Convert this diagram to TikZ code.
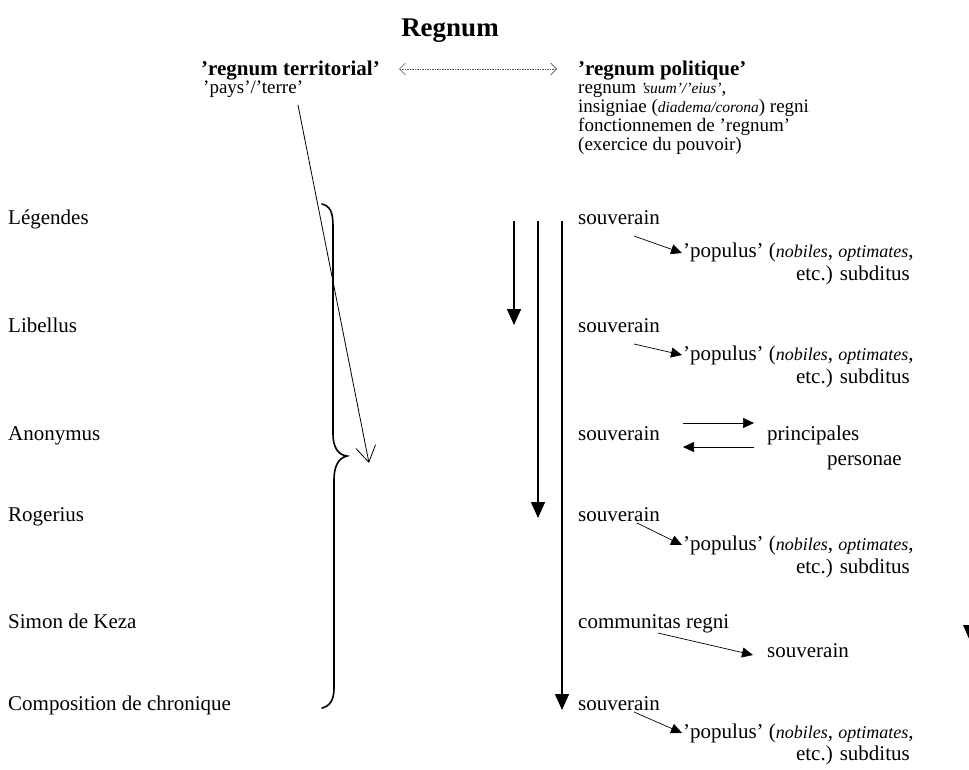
\documentclass[tikz,border=0pt]{standalone}
\usepackage{fontspec}
\setmainfont{Liberation Serif}
\usetikzlibrary{arrows.meta}
\newcommand\myit[1]{{\fontsize{18}{18}\selectfont\itshape #1}}
\newcommand\mysit[1]{{\fontsize{15.5}{15.5}\selectfont\itshape #1}}
\tikzset{
  txt/.style={inner sep=0pt, anchor=base west, font=\fontsize{21}{21}\selectfont},
  stxt/.style={inner sep=0pt, anchor=base west, font=\fontsize{19}{19}\selectfont},
  txtr/.style={txt, anchor=base east},
  hd/.style={txt, font=\fontsize{21}{21}\selectfont\bfseries},
  ttl/.style={inner sep=0pt, anchor=base, font=\fontsize{27}{27}\selectfont\bfseries},
  vert/.style={line width=1.5pt, -{Triangle[length=16pt,width=14pt]}},
  smallarr/.style={line width=0.7pt, -{Triangle[length=11pt,width=10pt]}},
  brc/.style={line width=1.6pt, line cap=round},
  diag/.style={line width=0.8pt, -{Straight Barb[length=16pt,width=20pt,line width=0.8pt]}},
  dots/.style={line width=0.6pt, draw=black!65, dash pattern=on 1.5pt off 1pt,
    {Straight Barb[length=6pt,width=12pt,line width=0.6pt]}-{Straight Barb[length=6pt,width=12pt,line width=0.6pt]}},
}
\begin{document}
\begin{tikzpicture}[x=1pt,y=-1pt]
\useasboundingbox (0,0) rectangle (969,769);
\fill[white] (0,0) rectangle (969,769);

% title and headings
\node[ttl] (title) at (450,36) {Regnum};
\node[hd] (terr) at (201,75) {’regnum territorial’};
\node[stxt] (pays) at (203,93) {’pays’/’terre’};
\node[hd] (pol) at (578,75) {’regnum politique’};
\node[stxt] (r2) at (578,93) {regnum \mysit{’suum’/’eius’},};
\node[stxt] (r3) at (578,112) {insigniae (\mysit{diadema/corona}) regni};
\node[stxt] (r4) at (578,131) {fonctionnemen de ’regnum’};
\node[stxt] (r5) at (578,150) {(exercice du pouvoir)};

\coordinate (dl) at (399,69);
\coordinate (dr) at (557,69);
\draw[dots] (dl) -- (dr);

% left labels
\node[txt] (leg) at (8,224) {Légendes};
\node[txt] (lib) at (8,332) {Libellus};
\node[txt] (ano) at (8,440) {Anonymus};
\node[txt] (rog) at (8,521) {Rogerius};
\node[txt] (sim) at (8,628) {Simon de Keza};
\node[txt] (com) at (8,710) {Composition de chronique};

% brace
\draw[brc] (322,204) .. controls (330,206) and (333,212) .. (333,226)
  -- (333,434) .. controls (333,447) and (338,455) .. (347,456)
  .. controls (338,458) and (334,467) .. (334,480)
  -- (334,688) .. controls (334,700) and (330,706) .. (322,708);

% diagonal arrow
\coordinate (dgs) at (298,105);
\coordinate (dge) at (369,463);
\draw[diag] (dgs) -- (dge);

% vertical arrows
\coordinate (v1s) at (514,221); \coordinate (v1e) at (514,325);
\coordinate (v2s) at (538,221); \coordinate (v2e) at (538,518);
\coordinate (v3s) at (562,221); \coordinate (v3e) at (562,710);
\draw[vert] (v1s) -- (v1e);
\draw[vert] (v2s) -- (v2e);
\draw[vert] (v3s) -- (v3e);

% block 1
\node[txt] (s1) at (578,224) {souverain};
\node[txt] (p1) at (683,257) {’populus’ (\myit{nobiles}, \myit{optimates},};
\node[txtr] (e1) at (910,280) {etc.) subditus};
\coordinate (a1s) at (634,236); \coordinate (a1e) at (682,253);
\draw[smallarr] (a1s) -- (a1e);

% block 2
\node[txt] (s2) at (578,332) {souverain};
\node[txt] (p2) at (683,360) {’populus’ (\myit{nobiles}, \myit{optimates},};
\node[txtr] (e2) at (910,383) {etc.) subditus};
\coordinate (a2s) at (634,344); \coordinate (a2e) at (682,355);
\draw[smallarr] (a2s) -- (a2e);

% block 3
\node[txt] (s3) at (578,440) {souverain};
\node[txt] (pr3) at (767,440) {principales};
\node[txtr] (pe3) at (902,465) {personae};
\coordinate (b3a) at (683,423); \coordinate (b3b) at (754,423);
\coordinate (b3c) at (754,447); \coordinate (b3d) at (683,447);
\draw[smallarr] (b3a) -- (b3b);
\draw[smallarr] (b3c) -- (b3d);

% block 4
\node[txt] (s4) at (578,521) {souverain};
\node[txt] (p4) at (683,550) {’populus’ (\myit{nobiles}, \myit{optimates},};
\node[txtr] (e4) at (910,573) {etc.) subditus};
\coordinate (a4s) at (637,523); \coordinate (a4e) at (682,545);
\draw[smallarr] (a4s) -- (a4e);

% block 5
\node[txt] (c5) at (578,628) {communitas regni};
\node[txt] (s5) at (767,657) {souverain};
\coordinate (a5s) at (658,633); \coordinate (a5e) at (753,655);
\draw[smallarr] (a5s) -- (a5e);

% block 6
\node[txt] (s6) at (578,710) {souverain};
\node[txt] (p6) at (683,738) {’populus’ (\myit{nobiles}, \myit{optimates},};
\node[txtr] (e6) at (910,760) {etc.) subditus};
\coordinate (a6s) at (634,712); \coordinate (a6e) at (682,733);
\draw[smallarr] (a6s) -- (a6e);

% lone arrowhead at right edge
\fill (963,625) -- (977,625) -- (970,641) -- cycle;
\end{tikzpicture}
\end{document}
